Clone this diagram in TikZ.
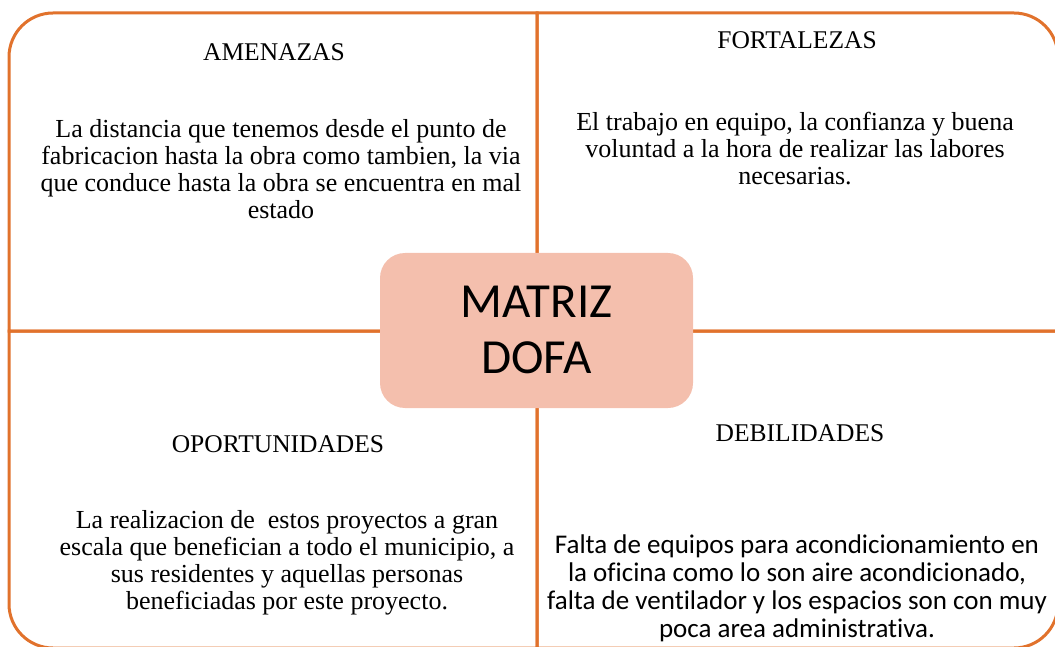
\documentclass[tikz,border=0pt]{standalone}
\usepackage{fontspec}
\setmainfont{Liberation Serif}
\newfontfamily\calibrifont{Carlito}[Ligatures=NoCommon]
\definecolor{dofaorange}{RGB}{225,114,44}
\definecolor{dofapink}{RGB}{244,191,173}

\begin{document}
\begin{tikzpicture}[x=1pt,y=-1pt,
  quad/.style={draw=dofaorange, line width=3pt},
  quadtitle/.style={font=\fontsize{25.5}{27}\selectfont},
  quadbody/.style={align=center, font=\fontsize{26}{27}\selectfont},
  centrebox/.style={fill=dofapink, rounded corners=25pt}]
\useasboundingbox (0,0) rectangle (1055,647);
\clip (0,0) rectangle (1055,647);
% the four quadrants
\draw[quad] (537,331) -- (9,331) [rounded corners=44pt] -- (9,13) [sharp corners] -- (537,13) -- cycle;
\draw[quad] (537,331) -- (537,13) [rounded corners=44pt] -- (1058,13) [sharp corners] -- (1058,331) -- cycle;
\draw[quad] (537,331) -- (9,331) [rounded corners=44pt] -- (9,648) [sharp corners] -- (537,648) -- cycle;
\draw[quad] (537,331) -- (537,648) [rounded corners=44pt] -- (1058,648) [sharp corners] -- (1058,331) -- cycle;
% centre
\path[centrebox] (380,253) rectangle (693,408);
\node[align=center, font=\calibrifont\fontsize{49}{56}\selectfont] (matriz) at (536.5,330) {MATRIZ\\DOFA};
% texts
\node[quadtitle] (amenazas) at (274,52) {AMENAZAS};
\node[quadbody] (amenazasText) at (281,169) {La distancia que tenemos desde el punto de\\fabricacion hasta la obra como tambien, la via\\que conduce hasta la obra se encuentra en mal\\estado};
\node[quadtitle] (fortalezas) at (797,40) {FORTALEZAS};
\node[quadbody] (fortalezasText) at (795,149) {El trabajo en equipo, la confianza y buena\\voluntad a la hora de realizar las labores\\necesarias.};
\node[quadtitle] (oportunidades) at (278,444) {OPORTUNIDADES};
\node[quadbody] (oportunidadesText) at (287,563) {La realizacion de\ \ estos proyectos a gran\\escala que benefician a todo el municipio, a\\sus residentes y aquellas personas\\beneficiadas por este proyecto.};
\node[quadtitle] (debilidades) at (800,433) {DEBILIDADES};
\node[quadbody, font=\calibrifont\fontsize{27}{28}\selectfont] (debilidadesText) at (797,588) {Falta de equipos para acondicionamiento en\\la oficina como lo son aire acondicionado,\\falta de ventilador y los espacios son con muy\\poca area administrativa.};
\end{tikzpicture}
\end{document}
